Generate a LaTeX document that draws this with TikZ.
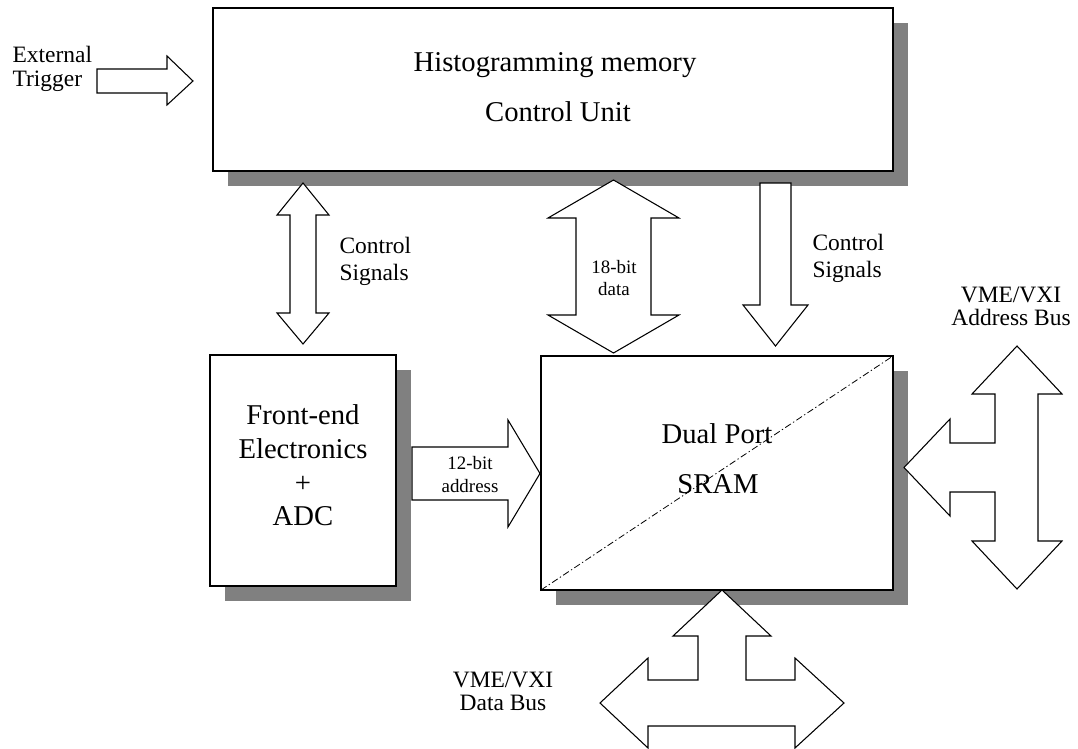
\documentclass[tikz,border=0pt]{standalone}
\usepackage{fontspec}
\setmainfont{Liberation Serif}
\definecolor{shadowgray}{RGB}{128,128,128}
\begin{document}
\begin{tikzpicture}[x=0.75pt,y=-0.75pt,line width=0.8pt,
  box/.style={draw=black,fill=white,outer sep=0pt,inner sep=0pt},
  blockarrow/.style={draw=black,fill=white,line join=miter},
  shadowbox/.style={fill=shadowgray,draw=none},
  bigtext/.style={font=\fontsize{21.5}{25}\selectfont,inner sep=0pt,anchor=base},
  midtext/.style={font=\fontsize{17.6}{21}\selectfont,inner sep=0pt,anchor=base},
  smalltext/.style={font=\fontsize{14.2}{17}\selectfont,inner sep=0pt,anchor=base},
  diag/.style={line width=0.6pt,dash pattern=on 5pt off 2pt on 1pt off 2pt}]
\useasboundingbox (0,0) rectangle (1078,749);

% boxes
\node[box,minimum width=510pt,minimum height=122.25pt] (cu) at (553,89.5) {};
\node[box,minimum width=139.5pt,minimum height=173.25pt] (fe) at (303,470.5) {};
\node[box,minimum width=264pt,minimum height=175.5pt] (sram) at (717,473) {};

% shadows (drawn behind)
\begin{scope}[on background layer/.try]
\end{scope}
\fill[shadowbox] ([shift={(15,15)}]cu.north west) rectangle ([shift={(15,15)}]cu.south east);
\fill[shadowbox] ([shift={(15,15)}]fe.north west) rectangle ([shift={(15,15)}]fe.south east);
\fill[shadowbox] ([shift={(15,15)}]sram.north west) rectangle ([shift={(15,15)}]sram.south east);
% redraw boxes over shadows
\draw[fill=white] (cu.north west) rectangle (cu.south east);
\draw[fill=white] (fe.north west) rectangle (fe.south east);
\draw[fill=white] (sram.north west) rectangle (sram.south east);

\draw[diag] (sram.south west) -- (sram.north east);

% block arrows
% external trigger
\draw[blockarrow] (97,69) -- (167,69) -- (167,56) -- (193,81) -- (167,105) -- (167,93) -- (97,93) -- cycle;
% left control signals (double)
\draw[blockarrow] (303,183) -- (329,215) -- (316,215) -- (316,313) -- (329,313) -- (303,344)
  -- (277,313) -- (290,313) -- (290,215) -- (277,215) -- cycle;
% 18-bit data (double)
\draw[blockarrow] (613.5,180) -- (679,218) -- (651,218) -- (651,315) -- (679,315) -- (613.5,353)
  -- (548,315) -- (576,315) -- (576,218) -- (548,218) -- cycle;
% right control signals (down)
\draw[blockarrow] (760,183) -- (791,183) -- (791,305) -- (808,305) -- (775.5,346) -- (743,305) -- (760,305) -- cycle;
% 12-bit address
\draw[blockarrow] (412,447) -- (508,447) -- (508,420) -- (540,473.5) -- (508,527) -- (508,500) -- (412,500) -- cycle;
% VME/VXI address bus
\draw[blockarrow] (1017,346) -- (1062,394) -- (1038,394) -- (1038,541) -- (1062,541) -- (1017,589)
  -- (972,541) -- (995,541) -- (995,492) -- (950,492) -- (950,516) -- (904,467.5) -- (950,419)
  -- (950,443) -- (995,443) -- (995,394) -- (972,394) -- cycle;
% VME/VXI data bus
\draw[blockarrow] (722,590) -- (771,636) -- (746,636) -- (746,680) -- (795,680) -- (795,658) -- (844,703)
  -- (795,748) -- (795,726) -- (648,726) -- (648,748) -- (600,703) -- (648,658) -- (648,680)
  -- (698,680) -- (698,636) -- (673,636) -- cycle;

% texts
\node[bigtext] (cu1) at (555,72) {Histogramming memory};
\node[bigtext] (cu2) at (558,122) {Control Unit};
\node[bigtext] (fe1) at (303,424) {Front-end};
\node[bigtext] (fe2) at (303,458) {Electronics};
\node[bigtext] (fe3) at (303,492) {+};
\node[bigtext] (fe4) at (303,525) {ADC};
\node[bigtext] (sr1) at (717,443) {Dual Port};
\node[bigtext] (sr2) at (718,493) {SRAM};

\node[midtext,anchor=base west] (et1) at (12,63) {External};
\node[midtext,anchor=base west] (et2) at (12,87) {Trigger};
\node[midtext,anchor=base west] (cs1) at (339,253) {Control};
\node[midtext,anchor=base west] (cs2) at (339,280) {Signals};
\node[midtext,anchor=base west] (cs3) at (812,250) {Control};
\node[midtext,anchor=base west] (cs4) at (812,277) {Signals};
\node[midtext] (ab1) at (1011,302) {VME/VXI};
\node[midtext] (ab2) at (1011,325) {Address Bus};
\node[midtext] (db1) at (503,687) {VME/VXI};
\node[midtext] (db2) at (503,710) {Data Bus};

\node[smalltext] (d1) at (614,273) {18-bit};
\node[smalltext] (d2) at (614,295) {data};
\node[smalltext] (a1) at (470,469) {12-bit};
\node[smalltext] (a2) at (470,492) {address};
\end{tikzpicture}
\end{document}
